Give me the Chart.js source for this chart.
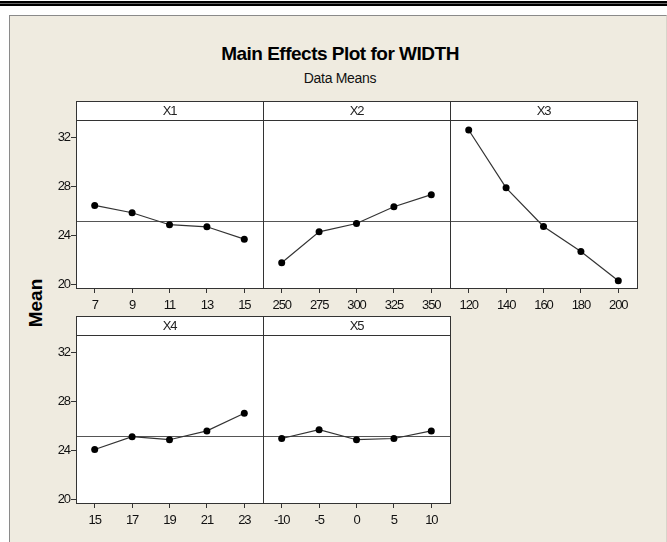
<!DOCTYPE html>
<html>
<head>
<meta charset="utf-8">
<script src="https://cdn.jsdelivr.net/npm/chart.js@4.4.0/dist/chart.umd.min.js"></script>
<style>
  body { margin: 0; background: #fff; width: 667px; height: 542px; position: relative; overflow: hidden; }
  #topbar { position: absolute; left: 0; top: 1px; width: 667px; height: 2px; background: #000; border-bottom: 1px solid #666; }
  #topbar2 { position: absolute; left: 0; top: 4px; width: 667px; height: 2px; background: #000; }
  #frame { position: absolute; left: 9px; top: 15px; width: 656px; height: 527px; background: #efebe0;
           border-left: 1px solid #8a8a8a; border-top: 1px solid #8a8a8a; border-right: 1px solid #d8d4ca; }
  #title { position: absolute; left: 140px; width: 400px; top: 44px; text-align: center;
           font: bold 19px "Liberation Sans", Arial, sans-serif; letter-spacing: -0.5px; line-height: 20px; color: #000; }
  #subtitle { position: absolute; left: 140px; width: 400px; top: 70px; text-align: center;
              font: 14px "Liberation Sans", Arial, sans-serif; letter-spacing: -0.3px; line-height: 16px; color: #111; }
  #ylabel { position: absolute; left: 35px; top: 303px; transform: translate(-50%, -50%) rotate(-90deg);
            font: bold 19px "Liberation Sans", Arial, sans-serif; line-height: 19px; color: #000; white-space: nowrap; }
  canvas { position: absolute; }
</style>
</head>
<body>
<div id="topbar"></div>
<div id="topbar2"></div>
<div id="frame"></div>
<div id="title">Main Effects Plot for WIDTH</div>
<div id="subtitle">Data Means</div>
<div id="ylabel">Mean</div>

<canvas id="c1" width="247" height="217"></canvas>
<canvas id="c2" width="247" height="217"></canvas>
<canvas id="c3" width="247" height="217"></canvas>
<canvas id="c4" width="247" height="217"></canvas>
<canvas id="c5" width="247" height="217"></canvas>

<script>
// Datos (medias por nivel de cada factor)
const factors = ["X1", "X2", "X3", "X4", "X5"];
const levelsX1 = [7, 9, 11, 13, 15];
const levelsX2 = [250, 275, 300, 325, 350];
const levelsX3 = [120, 140, 160, 180, 200];
const levelsX4 = [15, 17, 19, 21, 23];
const levelsX5 = [-10, -5, 0, 5, 10];
const meansX1 = [26.46, 25.86, 24.88, 24.71, 23.70];
const meansX2 = [21.76, 24.30, 24.98, 26.35, 27.34];
const meansX3 = [32.63, 27.90, 24.74, 22.69, 20.30];
const meansX4 = [24.08, 25.13, 24.88, 25.60, 27.04];
const meansX5 = [24.98, 25.70, 24.88, 24.98, 25.60];
const grandMean = 25.2;
const yTicks = [20, 24, 28, 32];
const yMin = 19.7, yMax = 33.45;

// Geometría de los paneles
const HEADER_H = 19;
const AXIS_W = 45;
const AXIS_H = 30;
const PAD_R = 15;
const colLeft = [76, 263, 450];
const rowTop = [101, 316];
const tickFont = { family: '"Liberation Sans", Arial, sans-serif', size: 13 };

// Plugin: fondo blanco, caja del panel, franja de cabecera y línea de la media
const panelBox = {
  id: "panelBox",
  beforeDraw(chart) {
    const { ctx, chartArea: a } = chart;
    ctx.letterSpacing = "-1.1px"; // letras más estrechas, como en el original
    ctx.save();
    ctx.fillStyle = "#fff";
    ctx.fillRect(a.left, a.top - HEADER_H, a.right - a.left, a.bottom - a.top + HEADER_H);
    ctx.restore();
  },
  beforeDatasetsDraw(chart) {
    const { ctx, chartArea: a } = chart;
    const y = Math.round(chart.scales.y.getPixelForValue(grandMean)) + 0.5;
    ctx.save();
    ctx.strokeStyle = "#555";
    ctx.lineWidth = 1;
    ctx.beginPath();
    ctx.moveTo(a.left, y);
    ctx.lineTo(a.right, y);
    ctx.stroke();
    ctx.restore();
  },
  afterDraw(chart, args, opts) {
    const { ctx, chartArea: a } = chart;
    const l = Math.round(a.left) + 0.5, r = Math.round(a.right) + 0.5;
    const t = Math.round(a.top - HEADER_H) + 0.5, b = Math.round(a.bottom) + 0.5;
    const h = Math.round(a.top) + 0.5;
    ctx.save();
    ctx.strokeStyle = "#333";
    ctx.lineWidth = 1;
    ctx.strokeRect(l, t, r - l, b - t);
    ctx.beginPath();
    ctx.moveTo(l, h);
    ctx.lineTo(r, h);
    ctx.stroke();
    ctx.fillStyle = "#222";
    ctx.font = '13px "Liberation Sans", Arial, sans-serif';
    ctx.textAlign = "center";
    ctx.textBaseline = "middle";
    ctx.fillText(opts.label, (a.left + a.right) / 2, a.top - HEADER_H / 2 + 1);
    ctx.restore();
  },
};

function createPanel(id, label, levels, means, col, row) {
  const canvas = document.getElementById(id);
  canvas.style.left = colLeft[col] - AXIS_W + "px";
  canvas.style.top = rowTop[row] + "px";
  const step = levels[1] - levels[0];
  const first = col === 0;

  return new Chart(canvas.getContext("2d"), {
    type: "line",
    data: {
      datasets: [
        {
          data: levels.map((v, i) => ({ x: v, y: means[i] })),
          borderColor: "#333",
          borderWidth: 1.2,
          pointRadius: 3.5,
          pointBackgroundColor: "#000",
          pointBorderColor: "#000",
          pointBorderWidth: 0,
          tension: 0,
        },
      ],
    },
    options: {
      responsive: false,
      animation: false,
      devicePixelRatio: 1,
      layout: { padding: { top: HEADER_H, right: PAD_R, left: 0, bottom: 0 } },
      plugins: {
        legend: { display: false },
        tooltip: { enabled: false },
        panelBox: { label: label },
      },
      scales: {
        x: {
          type: "linear",
          min: levels[0] - step / 2,
          max: levels[levels.length - 1] + step / 2,
          afterBuildTicks: (s) => { s.ticks = levels.map((v) => ({ value: v })); },
          afterFit: (s) => { s.height = AXIS_H; },
          ticks: { font: tickFont, color: "#111", padding: 5, maxRotation: 0, autoSkip: false },
          grid: { drawOnChartArea: false, drawTicks: true, tickLength: 5, color: "#333" },
          border: { display: false },
        },
        y: {
          min: yMin,
          max: yMax,
          afterBuildTicks: (s) => { s.ticks = yTicks.map((v) => ({ value: v })); },
          afterFit: (s) => { s.width = AXIS_W; },
          ticks: { display: first, font: tickFont, color: "#111", padding: 1 },
          grid: { display: first, drawOnChartArea: false, drawTicks: true, tickLength: 5, color: "#333" },
          border: { display: false },
        },
      },
    },
    plugins: [panelBox],
  });
}

createPanel("c1", factors[0], levelsX1, meansX1, 0, 0);
createPanel("c2", factors[1], levelsX2, meansX2, 1, 0);
createPanel("c3", factors[2], levelsX3, meansX3, 2, 0);
createPanel("c4", factors[3], levelsX4, meansX4, 0, 1);
createPanel("c5", factors[4], levelsX5, meansX5, 1, 1);
</script>
</body>
</html>
